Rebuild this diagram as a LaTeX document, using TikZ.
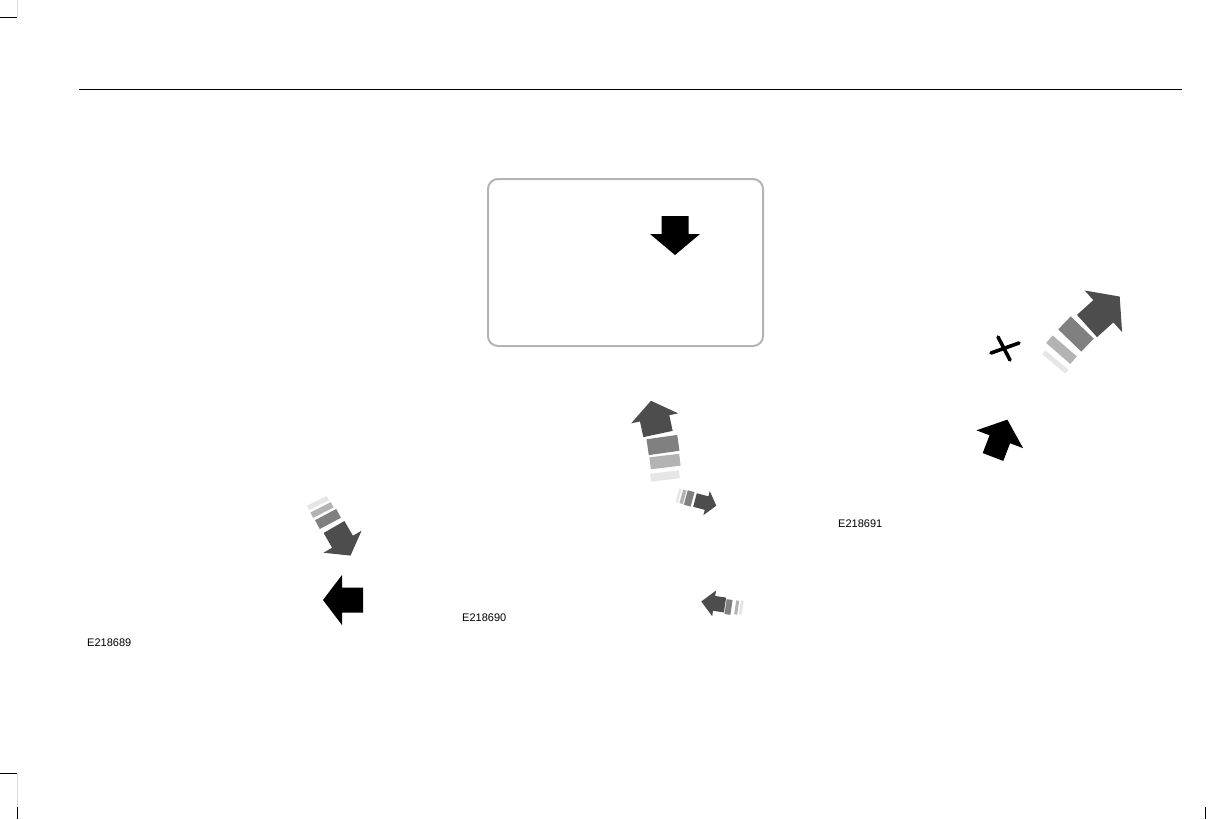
\documentclass[tikz,border=0pt]{standalone}
\usepackage{fontspec}
\setmainfont{Liberation Sans}
\definecolor{ardark}{HTML}{4D4D4D}
\definecolor{armed}{HTML}{808080}
\definecolor{arlight}{HTML}{B3B3B3}
\definecolor{arfaint}{HTML}{E6E6E6}
\definecolor{boxgray}{HTML}{B4B4B4}
\newcommand{\blkarrow}[8]{\fill[#1,shift={(#2,#3)},rotate=#4] (0,-#7)--(#5,-#7)--(#5,-#8)--({#5+#6},0)--(#5,#8)--(#5,#7)--(0,#7)--cycle;}
\newcommand{\arrstripe}[6]{\fill[#1,shift={(#2,#3)},rotate=#4] (-#5,-#6) rectangle (#5,#6);}
\begin{document}
\begin{tikzpicture}[x=1pt,y=-1pt,
  lab/.style={font=\fontsize{11}{13}\selectfont, anchor=west, inner sep=0pt, text=black},
  crop/.style={line width=1pt, black},
  cropgray/.style={line width=1pt, black!15},
  panel/.style={draw=boxgray, line width=2pt, rounded corners=10pt},
  xmark/.style={line width=3.6pt, line cap=round, black}]
\useasboundingbox (0,0) rectangle (1223,819);
% crop marks and header rule
\draw[crop] (0,17) -- (17,17);
\draw[cropgray] (17,0) -- (17,17);
\draw[crop] (0,773) -- (17,773);
\draw[cropgray] (17,773) -- (17,807);
\draw[crop] (17,807) -- (17,819);
\draw[crop] (1205,807) -- (1205,819);
\draw[line width=1pt] (79,89) -- (1182,89);
% panel
\draw[panel] (488,179) rectangle (763,346);
% black arrows
\blkarrow{black}{675}{216}{-90}{18}{21}{13.5}{25}
\blkarrow{black}{363}{600}{180}{21}{19}{12.5}{25}
\blkarrow{black}{993}{457}{69}{19}{21}{11}{25}
% gradient arrow A (down-right)
\arrstripe{arfaint}{318}{503}{-64}{2.5}{11}
\arrstripe{arlight}{322}{510}{-63}{3}{11.5}
\arrstripe{armed}{328}{519}{-62}{5}{12}
\blkarrow{ardark}{334}{527}{-60}{17}{16}{12}{22}
% gradient arrow D (up)
\arrstripe{arfaint}{665}{476}{97}{4}{14.5}
\arrstripe{arlight}{665}{461.5}{97}{6}{15}
\arrstripe{armed}{663}{445}{98}{8}{15.5}
\blkarrow{ardark}{658}{434}{102}{16}{18}{15}{24}
% gradient arrow E (small right)
\arrstripe{arfaint}{678.6}{495.6}{-15}{1.2}{7}
\arrstripe{arlight}{683}{496.8}{-15}{1.8}{7}
\arrstripe{armed}{689.2}{498.4}{-15}{3.5}{7.5}
\blkarrow{ardark}{695}{500}{-15}{12}{10}{7}{12.5}
% gradient arrow F (small left)
\arrstripe{arfaint}{741.3}{607.5}{171.5}{1.5}{7}
\arrstripe{arlight}{736.7}{607.5}{171.5}{1.5}{7}
\arrstripe{armed}{728.5}{607}{171.5}{3}{7.5}
\blkarrow{ardark}{725}{605}{171.5}{11}{13}{7.5}{13}
% gradient arrow G (large up-right)
\arrstripe{arfaint}{1055.4}{362}{50}{2.5}{15}
\arrstripe{arlight}{1061.5}{349.7}{49}{5}{16}
\arrstripe{armed}{1076}{334}{46}{9}{16}
\blkarrow{ardark}{1087}{326}{42}{22}{22}{15}{28}
% cross
\draw[xmark] (991,353) -- (1019,343);
\draw[xmark] (998,337) -- (1010,360);
% labels
\node[lab] (l1) at (87,643) {E218689};
\node[lab] (l2) at (462,618) {E218690};
\node[lab] (l3) at (838,524) {E218691};
\end{tikzpicture}
\end{document}
